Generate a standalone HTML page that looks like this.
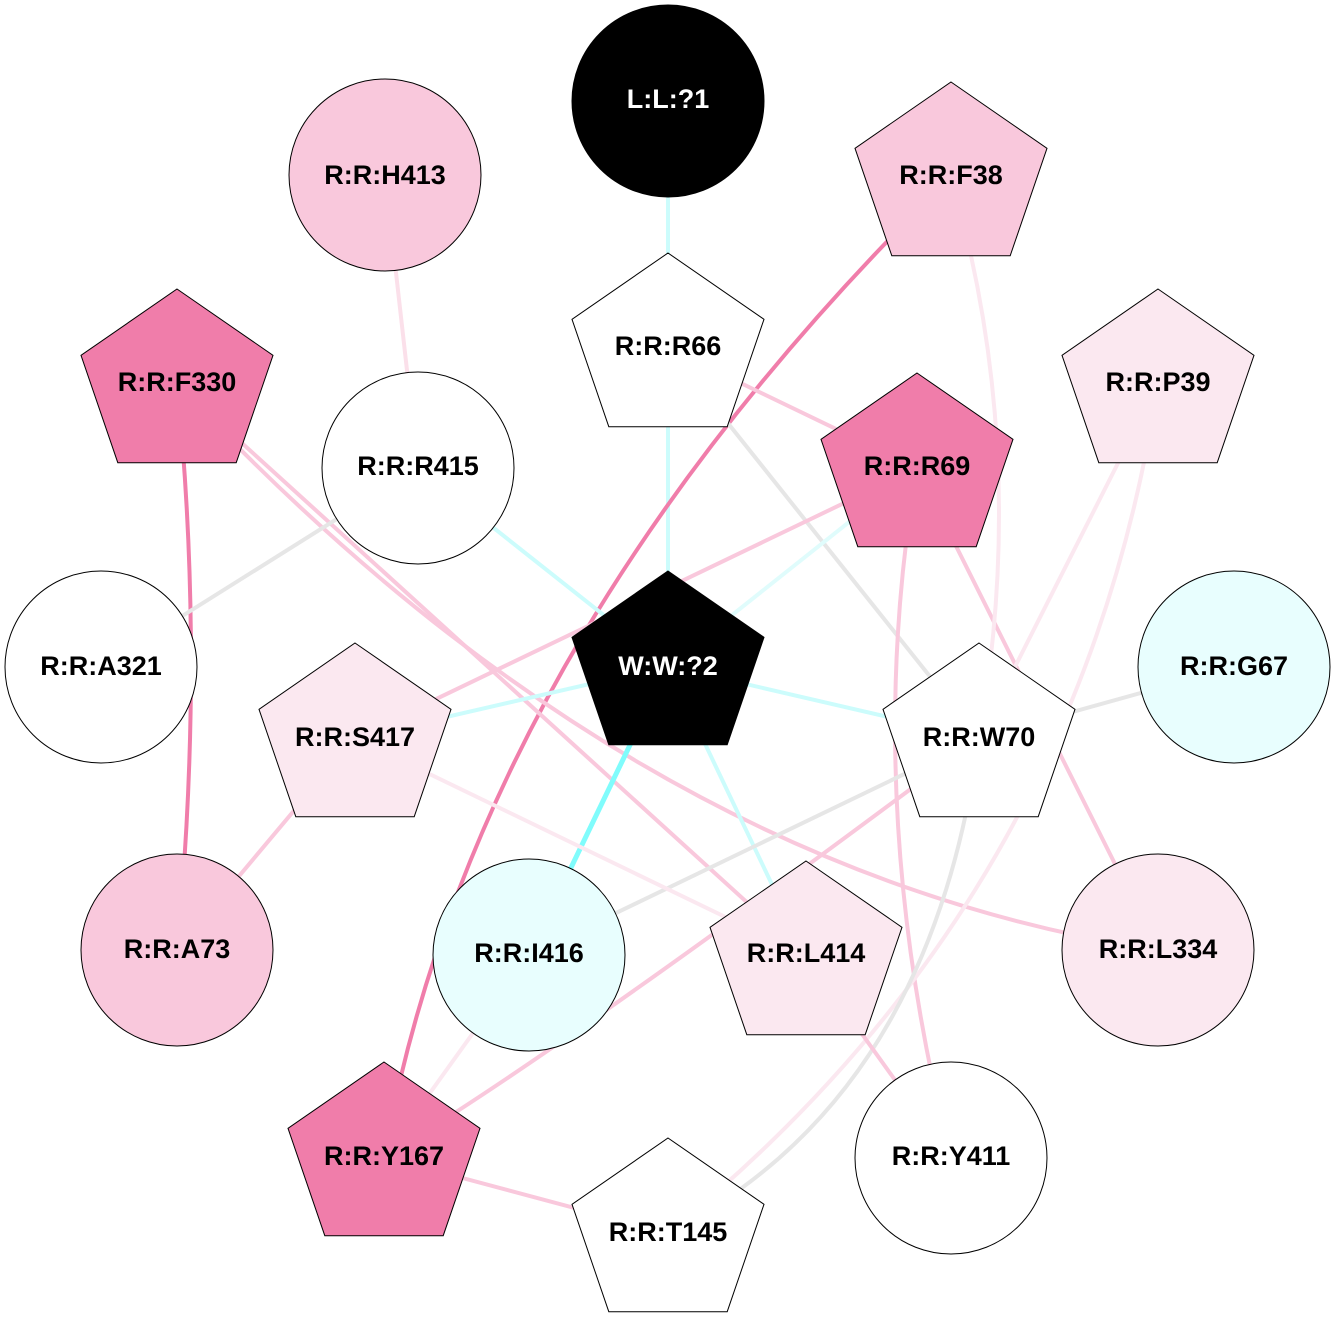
<!DOCTYPE html>
<html><head><meta charset="utf-8"><style>
html,body{margin:0;padding:0;background:#fff;}
svg text{font-family:"Liberation Sans",Arial,sans-serif;font-weight:bold;font-size:27px;text-anchor:middle;dominant-baseline:central;}
</style></head><body>
<svg width="1336" height="1336" viewBox="0 0 1336 1336" xmlns="http://www.w3.org/2000/svg">
<defs>
<polygon id="pg" points="0,-96 96,-29.7 59.2,77.7 -59.2,77.7 -96,-29.7"/>
</defs>
<g fill="none" stroke-linecap="round">
<path d="M668,101 L668,348" stroke="#ccfcfc" stroke-width="4"/>
<path d="M668,348 L668,666" stroke="#ccfcfc" stroke-width="4"/>
<path d="M385,175 L418,468" stroke="#fbe0ea" stroke-width="4"/>
<path d="M951,177 Q477,640 384,1157" stroke="#f07daa" stroke-width="4"/>
<path d="M177,384 Q205,660 177,950" stroke="#f07daa" stroke-width="4"/>
<path d="M177,384 L806,956" stroke="#f9c8dc" stroke-width="4"/>
<path d="M177,384 Q632,871 1158,950" stroke="#f9c8dc" stroke-width="4"/>
<path d="M668,348 L917,468" stroke="#f9c8dc" stroke-width="4"/>
<path d="M668,348 L979,738" stroke="#e6e6e6" stroke-width="4"/>
<path d="M101,667 L418,468" stroke="#e6e6e6" stroke-width="4"/>
<path d="M418,468 L668,666" stroke="#ccfcfc" stroke-width="4"/>
<path d="M917,468 L668,666" stroke="#e0fcfc" stroke-width="4"/>
<path d="M917,468 L355,738" stroke="#f9c8dc" stroke-width="4"/>
<path d="M917,468 Q860,800 951,1158" stroke="#f9c8dc" stroke-width="4"/>
<path d="M917,468 L1158,950" stroke="#f9c8dc" stroke-width="4"/>
<path d="M951,177 Q1030,450 979,738" stroke="#fbe8f0" stroke-width="4"/>
<path d="M1158,384 L979,738" stroke="#fbe8f0" stroke-width="4"/>
<path d="M1158,384 Q1080,900 668,1233" stroke="#fbe8f0" stroke-width="4"/>
<path d="M668,666 L355,738" stroke="#ccfcfc" stroke-width="4"/>
<path d="M668,666 L979,738" stroke="#ccfcfc" stroke-width="4"/>
<path d="M668,666 L529,955" stroke="#80fcfc" stroke-width="5"/>
<path d="M668,666 L806,956" stroke="#ccfcfc" stroke-width="4"/>
<path d="M1234,667 L979,738" stroke="#e6e6e6" stroke-width="4"/>
<path d="M979,738 L529,955" stroke="#e6e6e6" stroke-width="4"/>
<path d="M979,738 Q559,1053 384,1157" stroke="#f9c8dc" stroke-width="4"/>
<path d="M979,738 Q930,1100 668,1233" stroke="#e6e6e6" stroke-width="4"/>
<path d="M355,738 L177,950" stroke="#f9c8dc" stroke-width="4"/>
<path d="M355,738 L806,956" stroke="#fbe8f0" stroke-width="4"/>
<path d="M529,955 L384,1157" stroke="#fbe8f0" stroke-width="4"/>
<path d="M806,956 L951,1158" stroke="#f9c8dc" stroke-width="4"/>
<path d="M384,1157 L668,1233" stroke="#f9c8dc" stroke-width="4"/>
</g>
<g stroke="#000" stroke-width="1">
<circle cx="668" cy="101" r="96" fill="#000"/>
<circle cx="385" cy="175" r="96" fill="#f9c8dc"/>
<circle cx="418" cy="468" r="96" fill="#fff"/>
<circle cx="101" cy="667" r="96" fill="#fff"/>
<circle cx="1234" cy="667" r="96" fill="#e8fefe"/>
<circle cx="177" cy="950" r="96" fill="#f9c8dc"/>
<circle cx="529" cy="955" r="96" fill="#e8fefe"/>
<circle cx="1158" cy="950" r="96" fill="#fbe8f0"/>
<circle cx="951" cy="1158" r="96" fill="#fff"/>
</g>
<g stroke="#000" stroke-width="1">
<use href="#pg" transform="translate(951,178)" fill="#f9c8dc"/>
<use href="#pg" transform="translate(668,349)" fill="#fff"/>
<use href="#pg" transform="translate(177,385)" fill="#f07daa"/>
<use href="#pg" transform="translate(1158,385)" fill="#fbe8f0"/>
<use href="#pg" transform="translate(917,469)" fill="#f07daa"/>
<use href="#pg" transform="translate(668,667)" fill="#000"/>
<use href="#pg" transform="translate(355,739)" fill="#fbe8f0"/>
<use href="#pg" transform="translate(979,739)" fill="#fff"/>
<use href="#pg" transform="translate(806,957)" fill="#fbe8f0"/>
<use href="#pg" transform="translate(384,1158)" fill="#f07daa"/>
<use href="#pg" transform="translate(668,1234)" fill="#fff"/>
</g>
<g fill="#000">
<text x="668" y="99" fill="#fff">L:L:?1</text>
<text x="385" y="175">R:R:H413</text>
<text x="951" y="175">R:R:F38</text>
<text x="668" y="346">R:R:R66</text>
<text x="177" y="382">R:R:F330</text>
<text x="1158" y="382">R:R:P39</text>
<text x="418" y="466">R:R:R415</text>
<text x="917" y="466">R:R:R69</text>
<text x="101" y="666">R:R:A321</text>
<text x="668" y="666" fill="#fff">W:W:?2</text>
<text x="1234" y="666">R:R:G67</text>
<text x="355" y="737">R:R:S417</text>
<text x="979" y="737">R:R:W70</text>
<text x="177" y="949">R:R:A73</text>
<text x="529" y="953">R:R:I416</text>
<text x="806" y="953">R:R:L414</text>
<text x="1158" y="949">R:R:L334</text>
<text x="384" y="1156">R:R:Y167</text>
<text x="951" y="1156">R:R:Y411</text>
<text x="668" y="1232">R:R:T145</text>
</g>
</svg>
</body></html>
